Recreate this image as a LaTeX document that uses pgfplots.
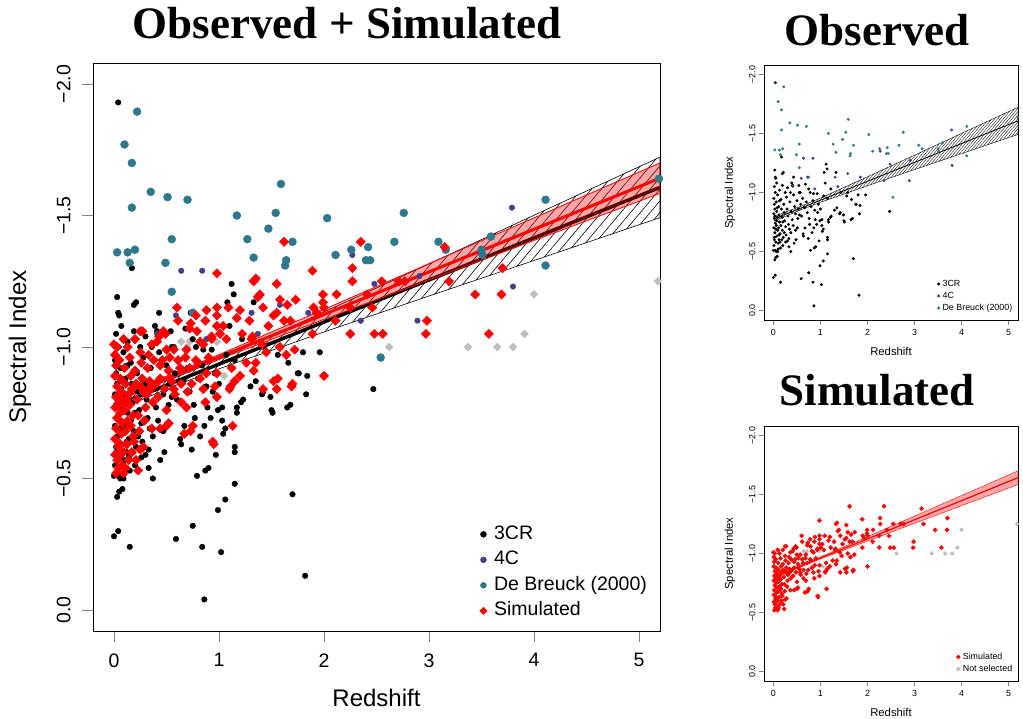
\documentclass[border=0pt]{standalone}
\usepackage{fontspec}
\setmainfont{Liberation Sans}
\newfontfamily\titlefont{Liberation Serif}
\usepackage{pgfplots}
\pgfplotsset{compat=1.18}
\usepackage{pgfplotstable}
\usetikzlibrary{patterns.meta}

\definecolor{dbteal}{RGB}{45,120,140}
\definecolor{fcpurple}{RGB}{72,61,139}
\definecolor{nsgrey}{RGB}{190,190,190}

% 3CR
\pgfplotstableread{
x y
0.04 -1.93
0.17 -1.30
0.03 -1.19
0.05 -1.12
0.19 -1.16
0.43 -1.13
1.12 -1.24
1.14 -1.20
1.08 -1.17
1.33 -1.17
1.10 -1.08
0.36 -1.00
0.41 -1.06
0.21 -1.17
0.04 -1.13
0.07 -1.08
0.39 -1.08
0.54 -1.06
0.73 -1.13
0.68 -1.07
0.75 -1.03
0.57 -1.00
0.78 -1.00
1.22 -1.03
1.43 -1.00
1.58 -1.00
1.56 -0.97
1.66 -0.94
1.80 -0.98
1.96 -0.98
1.75 -0.90
1.84 -0.89
2.47 -0.84
1.30 -0.85
1.42 -0.83
1.49 -0.81
1.41 -0.82
1.50 -0.76
1.51 -0.75
1.68 -0.78
1.65 -0.77
1.83 -0.82
1.21 -0.79
1.17 -0.77
1.23 -0.80
1.35 -0.87
0.94 -0.83
0.99 -0.76
1.03 -0.77
0.89 -0.77
0.76 -0.78
0.77 -0.73
0.92 -0.73
1.03 -0.72
1.17 -0.75
0.86 -0.70
1.06 -0.69
1.04 -0.67
1.15 -0.60
0.97 -0.59
1.15 -0.62
0.82 -0.66
0.74 -0.61
0.67 -0.70
0.63 -0.65
0.64 -0.63
0.51 -0.70
0.48 -0.60
0.47 -0.68
0.37 -0.66
0.33 -0.61
0.30 -0.59
0.37 -0.50
0.23 -0.66
0.20 -0.55
0.09 -0.50
0.08 -0.46
0.90 -0.54
0.79 -0.51
0.87 -0.53
1.15 -0.48
1.70 -0.44
1.06 -0.42
0.99 -0.38
0.75 -0.32
0.59 -0.27
0.84 -0.24
1.02 -0.22
0.00 -0.28
0.04 -0.30
0.15 -0.24
1.82 -0.13
0.86 -0.04
0.03 -0.43
0.05 -0.45
0.00 -0.51
0.04 -0.51
0.55 -0.81
0.52 -0.78
0.18 -0.60
0.85 -0.99
0.93 -0.99
1.07 -0.97
1.15 -0.95
1.76 -0.90
0.43 -0.98
0.19 -1.06
0.55 -1.00
0.01 -0.95
0.02 -0.90
0.03 -0.86
0.01 -0.82
0.02 -0.78
0.04 -0.74
0.01 -0.70
0.03 -0.66
0.02 -0.62
0.05 -0.58
0.01 -0.55
0.06 -0.92
0.07 -0.84
0.08 -0.79
0.06 -0.72
0.09 -0.68
0.07 -0.63
0.10 -0.57
0.11 -0.88
0.12 -0.81
0.13 -0.75
0.11 -0.70
0.14 -0.65
0.12 -0.60
0.15 -0.53
0.16 -0.94
0.17 -0.86
0.18 -0.79
0.16 -0.72
0.19 -0.68
0.21 -0.62
0.22 -0.90
0.23 -0.83
0.24 -0.76
0.26 -0.71
0.27 -0.64
0.28 -0.96
0.29 -0.86
0.31 -0.80
0.32 -0.73
0.34 -0.69
0.35 -0.92
0.38 -0.84
0.40 -0.77
0.42 -0.72
0.45 -0.88
0.47 -0.82
0.50 -0.93
0.53 -0.86
0.58 -0.90
0.60 -0.80
0.62 -0.95
0.66 -0.87
0.70 -0.92
0.72 -0.83
0.80 -0.88
0.84 -0.93
0.88 -0.85
0.96 -0.90
1.00 -0.86
0.04 -1.00
0.09 -0.98
0.13 -1.02
0.02 -1.05
0.25 -1.00
0.30 -1.04
0.10 -0.52
0.06 -0.50
0.14 -0.58
0.20 -0.75
0.08 -0.87
0.03 -0.80
0.05 -0.69
0.13 -0.93
0.26 -0.58
0.33 -0.54
0.44 -0.57
0.12 -0.64
0.02 -0.60
0.07 -0.76
}\tcr

% 4C
\pgfplotstableread{
x y
0.64 -1.29
0.84 -1.29
0.59 -1.12
0.41 -1.05
0.88 -1.03
1.31 -1.13
1.37 -1.05
1.58 -1.16
1.85 -1.13
2.27 -1.35
2.48 -1.24
2.35 -1.10
2.89 -1.10
2.91 -1.27
3.79 -1.53
3.80 -1.23
}\tfc

% De Breuck (2000)
\pgfplotstableread{
x y
0.22 -1.895
0.10 -1.77
0.17 -1.70
0.35 -1.59
0.17 -1.53
0.51 -1.57
0.03 -1.36
0.13 -1.36
0.20 -1.37
0.15 -1.32
0.55 -1.41
0.49 -1.32
0.55 -1.21
0.75 -1.13
0.70 -1.56
1.17 -1.50
1.27 -1.41
1.33 -1.34
1.47 -1.45
1.54 -1.51
1.59 -1.62
1.63 -1.31
1.64 -1.33
1.70 -1.40
2.03 -1.49
2.11 -1.35
2.26 -1.37
2.42 -1.38
2.40 -1.33
2.44 -1.33
2.67 -1.40
2.76 -1.51
2.54 -0.96
3.09 -1.40
3.16 -1.37
3.50 -1.37
3.51 -1.35
3.59 -1.42
4.11 -1.56
4.11 -1.31
5.19 -1.64
}\tdb

% Simulated
\pgfplotstableread{
x y
1.62 -1.40
2.35 -1.40
0.98 -1.28
1.89 -1.29
2.27 -1.30
2.27 -1.25
1.33 -1.25
1.35 -1.26
1.55 -1.24
1.39 -1.20
1.37 -1.19
1.99 -1.20
2.12 -1.20
1.73 -1.18
1.65 -1.16
1.58 -1.18
0.60 -1.15
0.88 -1.14
0.98 -1.15
1.09 -1.15
1.17 -1.11
1.42 -1.15
1.52 -1.12
1.55 -1.13
1.62 -1.10
1.68 -1.10
1.90 -1.15
0.61 -1.10
0.87 -1.10
0.98 -1.12
1.20 -1.14
1.29 -1.10
1.47 -1.08
1.04 -1.08
0.98 -1.08
0.25 -1.06
0.43 -1.04
0.49 -1.05
0.72 -1.07
0.79 -1.06
0.93 -1.04
1.01 -1.05
1.22 -1.05
1.32 -1.04
0.00 -1.01
0.09 -1.03
0.25 -0.98
2.25 -1.05
2.48 -1.05
1.99 -1.17
2.00 -1.15
3.15 -1.38
3.19 -1.25
3.44 -1.20
3.69 -1.20
3.70 -1.30
2.55 -1.25
2.41 -1.20
2.46 -1.15
2.25 -1.15
2.11 -1.10
1.89 -1.05
2.56 -1.05
2.98 -1.10
2.97 -1.05
3.57 -1.05
2.00 -0.89
2.71 -1.25
2.77 -1.25
1.69 -0.85
1.55 -0.84
1.42 -0.84
1.15 -0.87
1.10 -0.84
0.98 -0.81
0.87 -0.79
0.75 -0.70
0.67 -0.67
0.95 -0.63
1.13 -0.70
0.69 -0.77
0.50 -0.76
0.50 -0.70
0.25 -0.61
0.23 -0.53
0.09 -0.52
0.02 -0.52
0.01 -0.59
0.09 -0.60
0.18 -0.66
0.36 -0.69
0.44 -0.69
0.52 -0.71
0.31 -0.82
0.34 -0.87
0.44 -0.88
0.41 -1.02
0.50 -0.99
0.57 -0.99
0.69 -0.99
0.85 -1.01
0.93 -1.03
1.07 -1.03
1.31 -1.03
1.41 -1.01
1.58 -1.00
1.64 -0.97
1.52 -0.87
0.88 -0.90
0.82 -0.88
0.98 -0.90
0.63 -0.92
0.72 -0.92
0.80 -0.94
0.52 -0.91
0.44 -0.93
1.12 -0.92
1.26 -0.94
1.33 -0.91
1.45 -0.98
1.72 -0.99
1.70 -0.86
1.56 -0.88
1.93 -1.13
0.94 -0.64
0.01 -0.97
0.02 -0.93
0.01 -0.89
0.03 -0.85
0.02 -0.81
0.01 -0.77
0.03 -0.73
0.02 -0.69
0.01 -0.65
0.04 -0.62
0.03 -0.57
0.05 -0.95
0.06 -0.88
0.07 -0.83
0.05 -0.79
0.06 -0.75
0.08 -0.71
0.07 -0.67
0.06 -0.63
0.08 -0.55
0.10 -0.92
0.11 -0.86
0.12 -0.80
0.10 -0.76
0.13 -0.72
0.11 -0.68
0.12 -0.63
0.14 -0.57
0.15 -0.96
0.16 -0.89
0.17 -0.84
0.15 -0.78
0.18 -0.74
0.16 -0.70
0.19 -0.64
0.20 -0.91
0.21 -0.86
0.22 -0.80
0.23 -0.74
0.24 -0.68
0.26 -0.94
0.27 -0.88
0.28 -0.83
0.30 -0.77
0.29 -0.72
0.32 -0.92
0.33 -0.97
0.35 -0.84
0.37 -0.79
0.38 -0.95
0.40 -0.86
0.42 -0.81
0.46 -0.95
0.48 -0.84
0.53 -0.96
0.55 -0.87
0.58 -0.82
0.61 -0.95
0.64 -0.86
0.68 -0.96
0.74 -0.86
0.78 -0.95
0.82 -1.02
0.90 -0.96
0.03 -1.00
0.13 -1.00
0.20 -1.03
0.06 -0.59
0.11 -0.54
0.04 -0.54
0.17 -0.60
0.21 -0.57
0.14 -0.82
0.09 -0.78
0.25 -0.85
0.36 -1.01
0.28 -0.62
1.35 -0.94
1.20 -0.89
1.11 -0.85
0.96 -0.85
0.85 -0.84
0.70 -0.83
0.57 -0.84
0.64 -0.79
0.73 -0.68
0.47 -1.06
0.27 -1.06
0.78 -1.12
0.73 -1.09
}\tsim

% Not selected
\pgfplotstableread{
x y
5.18 -1.25
4.00 -1.20
3.91 -1.05
3.37 -1.00
3.65 -1.00
3.80 -1.00
2.62 -1.00
0.64 -1.02
0.72 -1.02
0.98 -1.02
1.05 -0.89
0.11 -0.62
0.70 -1.00
}\tns

\pgfplotsset{
  rpanel/.style={
    scale only axis, anchor=south west,
    xmin=-0.2, xmax=5.2, ymin=-2.08, ymax=0.08, y dir=reverse,
    xtick={0,1,2,3,4,5}, xticklabels={0,1,2,3,4,5},
    ytick={-2,-1.5,-1,-0.5,0},
    yticklabels={−2.0,−1.5,−1.0,−0.5,0.0},
    tick align=outside, tick pos=left,
    yticklabel style={rotate=90, anchor=south},
    xlabel={Redshift}, ylabel={Spectral Index},
    legend cell align=left,
  },
}

\begin{document}
\begin{tikzpicture}[x=1pt,y=1pt]
\useasboundingbox (0,0) rectangle (1023,719);

\node[anchor=base, font=\titlefont\bfseries\fontsize{45}{50}\selectfont] at (347,680) {Observed + Simulated};
\node[anchor=base, font=\titlefont\bfseries\fontsize{45}{50}\selectfont] at (877,673) {Observed};
\node[anchor=base, font=\titlefont\bfseries\fontsize{45}{50}\selectfont] at (877,313) {Simulated};

% main panel
\begin{axis}[rpanel, at={(93pt,88pt)}, width=567pt, height=568pt,
  axis line style={line width=0.9pt},
  major tick style={line width=0.9pt}, major tick length=11pt,
  tick label style={font=\fontsize{19.5}{22}\selectfont},
  label style={font=\fontsize{24}{28}\selectfont},
  xticklabel style={yshift=-8pt},
  yticklabel style={yshift=8pt},
  xlabel style={at={(axis description cs:0.5,-0.118)}, anchor=center},
  ylabel style={at={(axis description cs:-0.129,0.5)}, anchor=center},
  legend style={at={(0.995,0.014)}, anchor=south east, draw=none, fill=none,
    font=\fontsize{19.5}{22}\selectfont, row sep=5.5pt,
    nodes={inner ysep=1pt, inner xsep=7pt, text height=14pt, text depth=4pt}},
]
\addplot[only marks, mark=square*, mark size=2.8pt, mark options={rotate=45}, color=nsgrey, forget plot] table {\tns};
\addplot[only marks, mark=*, mark size=2.8pt, color=black, forget plot] table {\tcr};
\addplot[only marks, mark=*, mark size=2.8pt, color=fcpurple, forget plot] table {\tfc};
\addplot[only marks, mark=*, mark size=4pt, color=dbteal, forget plot] table {\tdb};
\addplot[only marks, mark=square*, mark size=3.3pt, mark options={rotate=45}, color=red, forget plot] table {\tsim};
% observed fit, hatched confidence band
\addplot[draw=black, line width=0.6pt, pattern={Lines[angle=50,distance=7.5pt,line width=0.6pt]}, forget plot] coordinates {
(0.02,-0.799)(0.6,-0.886)(1,-0.953)(2,-1.133)(3,-1.316)(4,-1.501)(5.2,-1.722)
(5.2,-1.492)(4,-1.329)(3,-1.194)(2,-1.057)(1,-0.917)(0.6,-0.856)(0.02,-0.759)} -- cycle;
\addplot[black, line width=3.5pt, forget plot] coordinates {(0.02,-0.778)(5.2,-1.607)};
% simulated fit
\addplot[draw=red, line width=0.8pt, fill=red, fill opacity=0.35, forget plot] coordinates {
(0.02,-0.814)(0.6,-0.905)(1,-0.971)(2,-1.143)(3,-1.317)(4,-1.491)(5.2,-1.700)
(5.2,-1.584)(4,-1.405)(3,-1.255)(2,-1.105)(1,-0.953)(0.6,-0.889)(0.02,-0.792)} -- cycle;
\addplot[red, line width=3pt, forget plot] coordinates {(0.02,-0.803)(5.2,-1.642)};
\addlegendimage{only marks, mark=*, mark size=3pt, black}
\addlegendentry{3CR}
\addlegendimage{only marks, mark=*, mark size=3pt, fcpurple}
\addlegendentry{4C}
\addlegendimage{only marks, mark=*, mark size=3pt, dbteal}
\addlegendentry{De Breuck (2000)}
\addlegendimage{only marks, mark=square*, mark size=2.6pt, mark options={rotate=45}, red}
\addlegendentry{Simulated}
\end{axis}

% observed panel
\begin{axis}[rpanel, at={(764pt,399pt)}, width=254pt, height=255pt,
  axis line style={line width=0.5pt},
  major tick style={line width=0.5pt}, major tick length=5pt,
  tick label style={font=\fontsize{8.9}{10}\selectfont},
  label style={font=\fontsize{11.3}{13}\selectfont},
  xticklabel style={yshift=-1pt},
  xlabel style={at={(axis description cs:0.5,-0.122)}, anchor=center},
  ylabel style={at={(axis description cs:-0.134,0.5)}, anchor=center},
  legend style={at={(1.0,0.02)}, anchor=south east, draw=none, fill=none,
    font=\fontsize{8.9}{10}\selectfont, row sep=2.6pt,
    nodes={inner ysep=0.5pt, inner xsep=2.5pt, text height=6.5pt, text depth=1.9pt}},
]
\addplot[only marks, mark=*, mark size=1.3pt, color=black, forget plot] table {\tcr};
\addplot[only marks, mark=*, mark size=1.3pt, color=fcpurple, forget plot] table {\tfc};
\addplot[only marks, mark=*, mark size=1.3pt, color=dbteal, forget plot] table {\tdb};
\addplot[draw=black, line width=0.4pt, pattern={Lines[angle=50,distance=2.2pt,line width=0.35pt]}, forget plot] coordinates {
(0.02,-0.799)(0.6,-0.886)(1,-0.953)(2,-1.133)(3,-1.316)(4,-1.501)(5.2,-1.722)
(5.2,-1.492)(4,-1.329)(3,-1.194)(2,-1.057)(1,-0.917)(0.6,-0.856)(0.02,-0.759)} -- cycle;
\addplot[black, line width=0.8pt, forget plot] coordinates {(0.02,-0.778)(5.2,-1.607)};
\addlegendimage{only marks, mark=*, mark size=1.3pt, black}
\addlegendentry{3CR}
\addlegendimage{only marks, mark=*, mark size=1.3pt, fcpurple}
\addlegendentry{4C}
\addlegendimage{only marks, mark=*, mark size=1.3pt, dbteal}
\addlegendentry{De Breuck (2000)}
\end{axis}

% simulated panel
\begin{axis}[rpanel, at={(764pt,38pt)}, width=254pt, height=255pt,
  axis line style={line width=0.5pt},
  major tick style={line width=0.5pt}, major tick length=5pt,
  tick label style={font=\fontsize{8.9}{10}\selectfont},
  label style={font=\fontsize{11.3}{13}\selectfont},
  xticklabel style={yshift=-1pt},
  xlabel style={at={(axis description cs:0.5,-0.122)}, anchor=center},
  ylabel style={at={(axis description cs:-0.134,0.5)}, anchor=center},
  legend style={at={(1.0,0.02)}, anchor=south east, draw=none, fill=none,
    font=\fontsize{8.9}{10}\selectfont, row sep=2.6pt,
    nodes={inner ysep=0.5pt, inner xsep=2.5pt, text height=6.5pt, text depth=1.9pt}},
]
\addplot[only marks, mark=square*, mark size=1.4pt, mark options={rotate=45}, color=nsgrey, forget plot] table {\tns};
\addplot[only marks, mark=square*, mark size=1.5pt, mark options={rotate=45}, color=red, forget plot] table {\tsim};
\addplot[draw=red, line width=0.4pt, fill=red, fill opacity=0.35, forget plot] coordinates {
(0.02,-0.814)(0.6,-0.905)(1,-0.971)(2,-1.143)(3,-1.317)(4,-1.491)(5.2,-1.700)
(5.2,-1.584)(4,-1.405)(3,-1.255)(2,-1.105)(1,-0.953)(0.6,-0.889)(0.02,-0.792)} -- cycle;
\addplot[red, line width=1.2pt, forget plot] coordinates {(0.02,-0.803)(5.2,-1.642)};
\addlegendimage{only marks, mark=square*, mark size=1.4pt, mark options={rotate=45}, red}
\addlegendentry{Simulated}
\addlegendimage{only marks, mark=square*, mark size=1.4pt, mark options={rotate=45}, nsgrey}
\addlegendentry{Not selected}
\end{axis}
\end{tikzpicture}
\end{document}
